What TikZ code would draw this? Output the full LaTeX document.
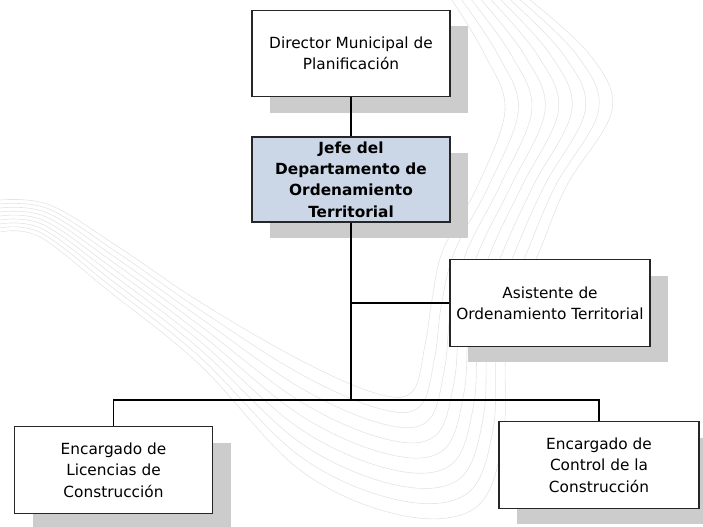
\documentclass[tikz,border=0pt]{standalone}
\usepackage{fontspec}
\setmainfont{DejaVu Sans}
\usetikzlibrary{shadows,calc}

\definecolor{jefeblue}{RGB}{203,215,230}
\definecolor{shadowgray}{RGB}{204,204,204}
\definecolor{wavegray}{RGB}{228,228,228}

\tikzset{
    orgbox/.style={draw=black!85, line width=0.8pt, fill=white, align=center,
        minimum width=148.5pt, minimum height=65pt, inner sep=1pt,
        font=\fontsize{11.5}{16}\selectfont,
        general shadow={fill=shadowgray, shadow xshift=13.5pt, shadow yshift=-12pt}},
    headbox/.style={orgbox, fill=jefeblue, font=\fontsize{11.5}{16}\selectfont\bfseries},
    link/.style={line width=0.8pt},
    wave/.style={wavegray, line width=0.45pt}
}

\begin{document}
\begin{tikzpicture}[x=0.75pt, y=-0.75pt]
    \useasboundingbox (0,0) rectangle (703,527);

    % Background waves
    \foreach \k in {0,...,8}{
        \pgfmathsetmacro\t{\k/8}
        \draw [wave] plot[smooth, tension=0.6] coordinates {
            ($(0,200)!\t!(0,232)$) ($(50,205)!\t!(40,237)$) ($(120,248)!\t!(110,292)$)
            ($(200,302)!\t!(200,365)$) ($(300,360)!\t!(300,470)$) ($(375,393)!\t!(400,515)$)
            ($(412,392)!\t!(475,508)$) ($(425,345)!\t!(503,440)$) ($(432,300)!\t!(508,330)$)
            ($(443,250)!\t!(540,250)$) ($(478,185)!\t!(567,185)$) ($(505,110)!\t!(612,110)$)
            ($(485,55)!\t!(590,55)$) ($(452,0)!\t!(530,0)$)
        };
    }

    % Boxes
    \node [orgbox] (dir) at (351,53.5) {Director Municipal de\\Planificación};
    \node [headbox, minimum height=63.75pt, inner ysep=0pt] (jefe) at (351,179.5)
        {Jefe del\\Departamento de\\Ordenamiento\\Territorial};
    \node [orgbox, minimum width=150pt] (asis) at (550,303) {Asistente de\\Ordenamiento Territorial};
    \node [orgbox] (lic) at (113.5,470) {Encargado de\\Licencias de\\Construcción};
    \node [orgbox, minimum width=150pt] (ctrl) at (599,465) {Encargado de\\Control de la\\Construcción};

    % Connectors
    \coordinate (bus) at (351,400);
    \draw [link] (dir) -- (jefe);
    \draw [link] (jefe) -- (bus);
    \draw [link] (asis.west) -- (asis.west -| bus);
    \draw [link] (lic.north) |- (bus) -| (ctrl.north);
\end{tikzpicture}
\end{document}
